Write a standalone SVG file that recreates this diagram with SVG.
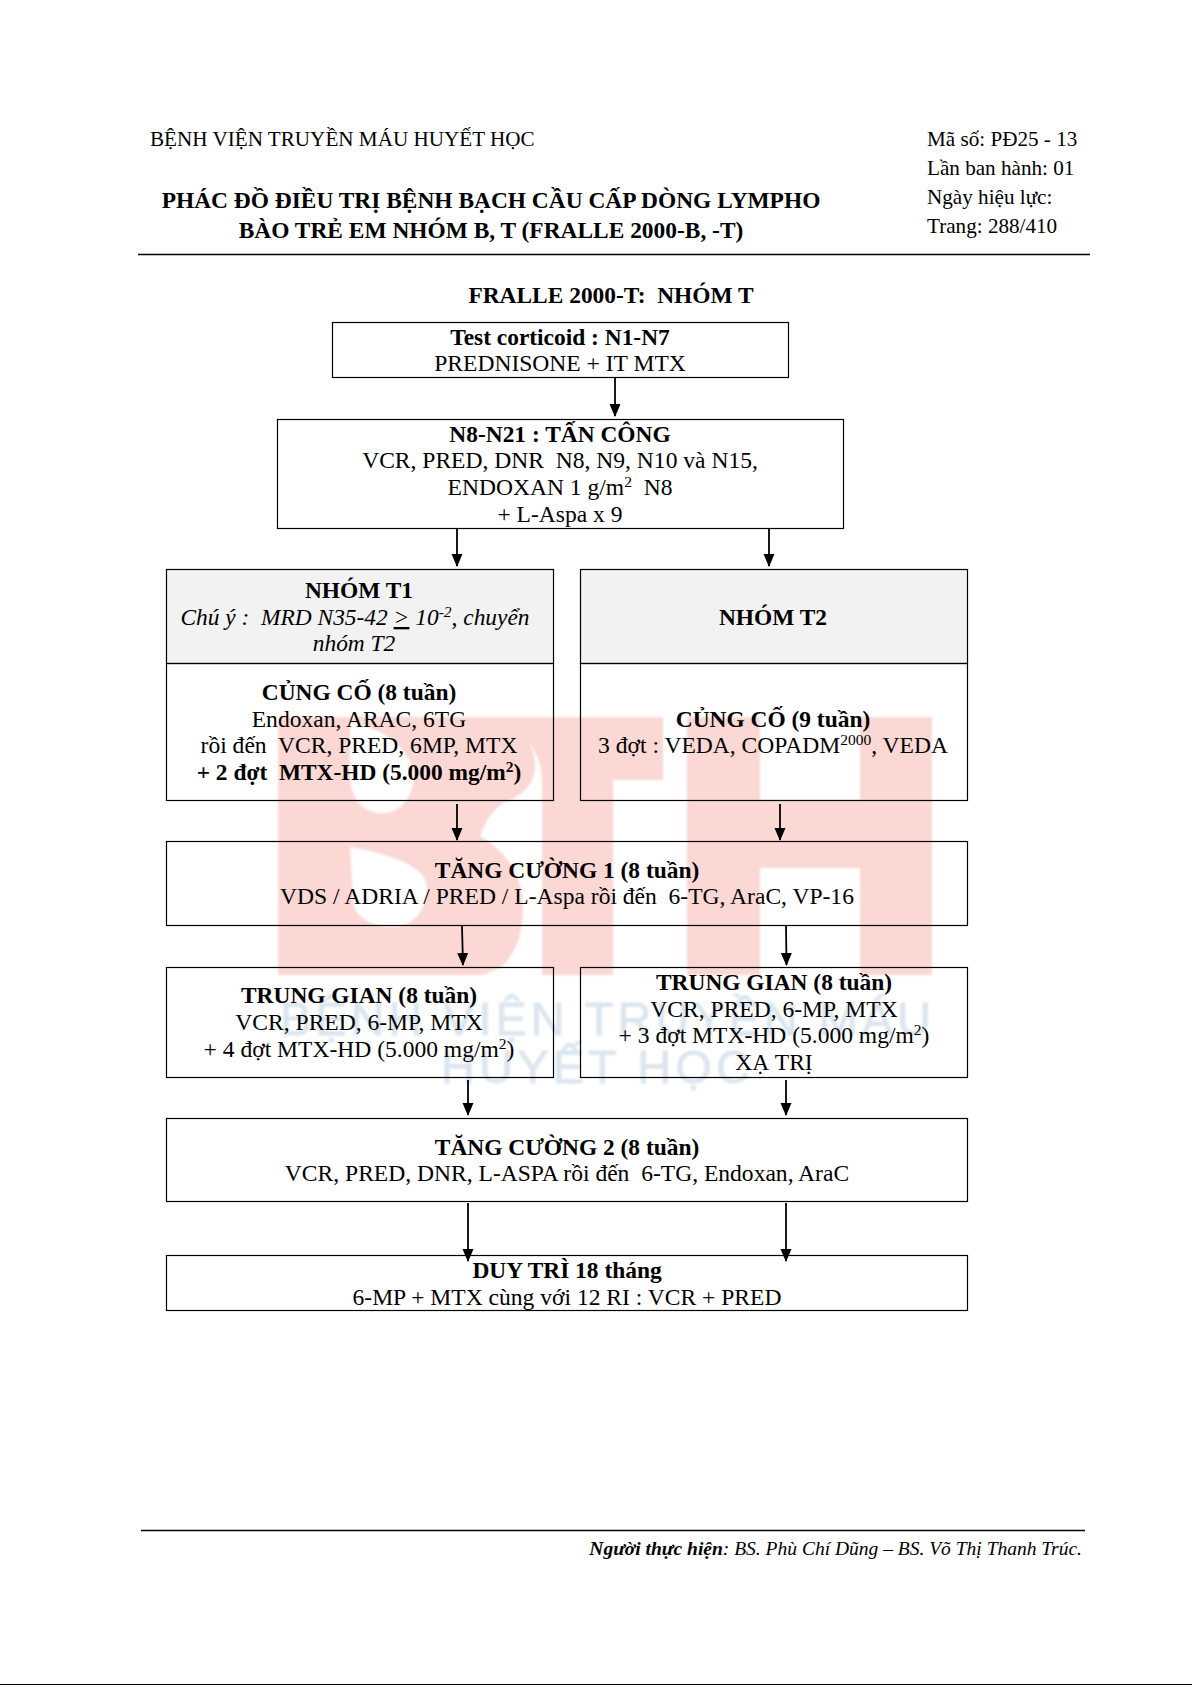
<svg xmlns="http://www.w3.org/2000/svg" width="1192" height="1685" viewBox="0 0 1192 1685">
<style>
text{font-family:"Liberation Serif","Times New Roman",serif;font-size:23.55px;fill:#000;white-space:pre}
.c{text-anchor:middle}
.b{font-weight:700;font-size:23.42px}
.i{font-style:italic;font-size:23.4px}
.h{font-size:21.15px}
.box{fill:none;stroke:#000;stroke-width:1.2}
.hd{fill:#f2f2f2;stroke:#000;stroke-width:1.2}
.rule{stroke:#000;stroke-width:1.5}
.wm{fill:#fbd8d4}
.wmt{font-family:"Liberation Sans",Arial,sans-serif;fill:#dbe5ef;stroke:#dbe5ef;stroke-width:.8;font-size:47px;letter-spacing:2px}
.ar{stroke:#000;stroke-width:1.8;fill:none;marker-end:url(#h)}
.up{font-size:15.5px;baseline-shift:8px}
</style>
<defs>
<marker id="h" markerUnits="userSpaceOnUse" markerWidth="13" markerHeight="14" refX="12" refY="6" orient="auto"><path d="M0,0.500 L13,6 L0,11.500 Z" fill="#000"/></marker>
<filter id="soft" x="-2%" y="-2%" width="104%" height="104%"><feGaussianBlur stdDeviation="0.8"/></filter>
</defs>
<rect width="1192" height="1685" fill="#fff"/>
<g id="watermark" filter="url(#soft)">
<path class="wm" fill-rule="evenodd" d="M278,717 H500 C522,724 535,745 535,767 C535,785 520,797 503,803 C492,810 485,822 480,836 C505,850 523,875 523,907 C523,935 515,955 500,968 L483,975 H278 Z M350,722 C390,730 418,755 413,785 C408,805 395,814 380,813 C360,812 350,795 350,775 Z M350,847 C395,855 427,868 427,887 C427,910 413,927 393,927 C370,927 353,915 353,900 Z"/>
<path class="wm" d="M500,717 H663 V780 H613 V975 H542 V780 C542,755 525,730 500,717 Z"/>
<path class="wm" d="M687,717 H760 V800 H860 V717 H932 V975 H860 V868 H760 V975 H687 Z"/>
<text class="wmt" x="280" y="1035" textLength="653">BỆNH VIỆN TRUYỀN MÁU</text>
<text class="wmt" x="441" y="1083" textLength="311">HUYẾT HỌC</text>
</g>
<g id="header">
<text class="h" x="150" y="146">BỆNH VIỆN TRUYỀN MÁU HUYẾT HỌC</text>
<text class="h" x="927" y="146">Mã số: PĐ25 - 13</text>
<text class="h" x="927" y="175">Lần ban hành: 01</text>
<text class="h" x="927" y="204">Ngày hiệu lực:</text>
<text class="h" x="927" y="233">Trang: 288/410</text>
<text class="c b" x="491" y="208">PHÁC ĐỒ ĐIỀU TRỊ BỆNH BẠCH CẦU CẤP DÒNG LYMPHO</text>
<text class="c b" x="491" y="238">BÀO TRẺ EM NHÓM B, T (FRALLE 2000-B, -T)</text>
<line class="rule" x1="138" y1="254.500" x2="1090" y2="254.500"/>
<text class="c b" x="611" y="303">FRALLE 2000-T:  NHÓM T</text>
</g>
<g id="connectors">
<line class="ar" x1="615" y1="377" x2="615" y2="416"/>
<line class="ar" x1="457" y1="529" x2="457" y2="566"/>
<line class="ar" x1="769" y1="529" x2="769" y2="566"/>
<line class="ar" x1="457" y1="804" x2="457" y2="840"/>
<line class="ar" x1="780" y1="804" x2="780" y2="840"/>
<line class="ar" x1="462" y1="926" x2="463" y2="965"/>
<line class="ar" x1="786" y1="926" x2="786.500" y2="965"/>
<line class="ar" x1="468" y1="1080" x2="468" y2="1115"/>
<line class="ar" x1="786" y1="1080" x2="786" y2="1115"/>
<line class="ar" x1="468" y1="1203" x2="468" y2="1261"/>
<line class="ar" x1="786" y1="1203" x2="786" y2="1261"/>
</g>
<g id="n-test">
<rect class="box" x="332.500" y="322.500" width="456" height="55"/>
<text class="c b" x="560" y="345">Test corticoid : N1-N7</text>
<text class="c" x="560" y="371">PREDNISONE + IT MTX</text>
</g>
<g id="n-tancong">
<rect class="box" x="277.500" y="419.500" width="566" height="109"/>
<text class="c b" x="560" y="442">N8-N21 : TẤN CÔNG</text>
<text class="c" x="560" y="468">VCR, PRED, DNR  N8, N9, N10 và N15,</text>
<text class="c" x="560" y="495">ENDOXAN 1 g/m<tspan class="up">2</tspan>  N8</text>
<text class="c" x="560" y="522">+ L-Aspa x 9</text>
</g>
<g id="n-t1">
<rect class="hd" x="166.500" y="569.500" width="387" height="94"/>
<rect class="box" x="166.500" y="663.500" width="387" height="137"/>
<text class="c b" x="359" y="598">NHÓM T1</text>
<text class="c i" x="355" y="625">Chú ý :  MRD N35-42 <tspan text-decoration="underline">&gt;</tspan> 10<tspan class="up">-2</tspan>, chuyển</text>
<text class="c i" x="354" y="651">nhóm T2</text>
<text class="c b" x="359" y="700">CỦNG CỐ (8 tuần)</text>
<text class="c" x="359" y="727">Endoxan, ARAC, 6TG</text>
<text class="c" x="359" y="753">rồi đến  VCR, PRED, 6MP, MTX</text>
<text class="c b" x="359" y="780">+ 2 đợt  MTX-HD (5.000 mg/m<tspan class="up">2</tspan>)</text>
</g>
<g id="n-t2">
<rect class="hd" x="580.500" y="569.500" width="387" height="94"/>
<rect class="box" x="580.500" y="663.500" width="387" height="137"/>
<text class="c b" x="773" y="625">NHÓM T2</text>
<text class="c b" x="773" y="727">CỦNG CỐ (9 tuần)</text>
<text class="c" x="773" y="753">3 đợt : VEDA, COPADM<tspan class="up">2000</tspan>, VEDA</text>
</g>
<g id="n-tc1">
<rect class="box" x="166.500" y="841.500" width="801" height="84"/>
<text class="c b" x="567" y="878">TĂNG CƯỜNG 1 (8 tuần)</text>
<text class="c" x="567" y="904">VDS / ADRIA / PRED / L-Aspa rồi đến  6-TG, AraC, VP-16</text>
</g>
<g id="n-tg1">
<rect class="box" x="166.500" y="967.500" width="387" height="110"/>
<text class="c b" x="359" y="1003">TRUNG GIAN (8 tuần)</text>
<text class="c" x="359" y="1030">VCR, PRED, 6-MP, MTX</text>
<text class="c" x="359" y="1057">+ 4 đợt MTX-HD (5.000 mg/m<tspan class="up">2</tspan>)</text>
</g>
<g id="n-tg2">
<rect class="box" x="580.500" y="967.500" width="387" height="110"/>
<text class="c b" x="774" y="990">TRUNG GIAN (8 tuần)</text>
<text class="c" x="774" y="1017">VCR, PRED, 6-MP, MTX</text>
<text class="c" x="774" y="1043">+ 3 đợt MTX-HD (5.000 mg/m<tspan class="up">2</tspan>)</text>
<text class="c" x="774" y="1070">XẠ TRỊ</text>
</g>
<g id="n-tc2">
<rect class="box" x="166.500" y="1118.500" width="801" height="83"/>
<text class="c b" x="567" y="1155">TĂNG CƯỜNG 2 (8 tuần)</text>
<text class="c" x="567" y="1181">VCR, PRED, DNR, L-ASPA rồi đến  6-TG, Endoxan, AraC</text>
</g>
<g id="n-duytri">
<rect class="box" x="166.500" y="1255.500" width="801" height="55"/>
<text class="c b" x="567" y="1278">DUY TRÌ 18 tháng</text>
<text class="c" x="567" y="1305">6-MP + MTX cùng với 12 RI : VCR + PRED</text>
</g>
<g id="footer">
<line class="rule" x1="141" y1="1530.500" x2="1085" y2="1530.500"/>
<text class="i" x="1082" y="1555" text-anchor="end" style="font-size:19.5px"><tspan class="b" style="font-size:19.5px">Người thực hiện</tspan>: BS. Phù Chí Dũng – BS. Võ Thị Thanh Trúc.</text>
<rect x="0" y="1684" width="1192" height="1" fill="#000"/>
</g>
</svg>
